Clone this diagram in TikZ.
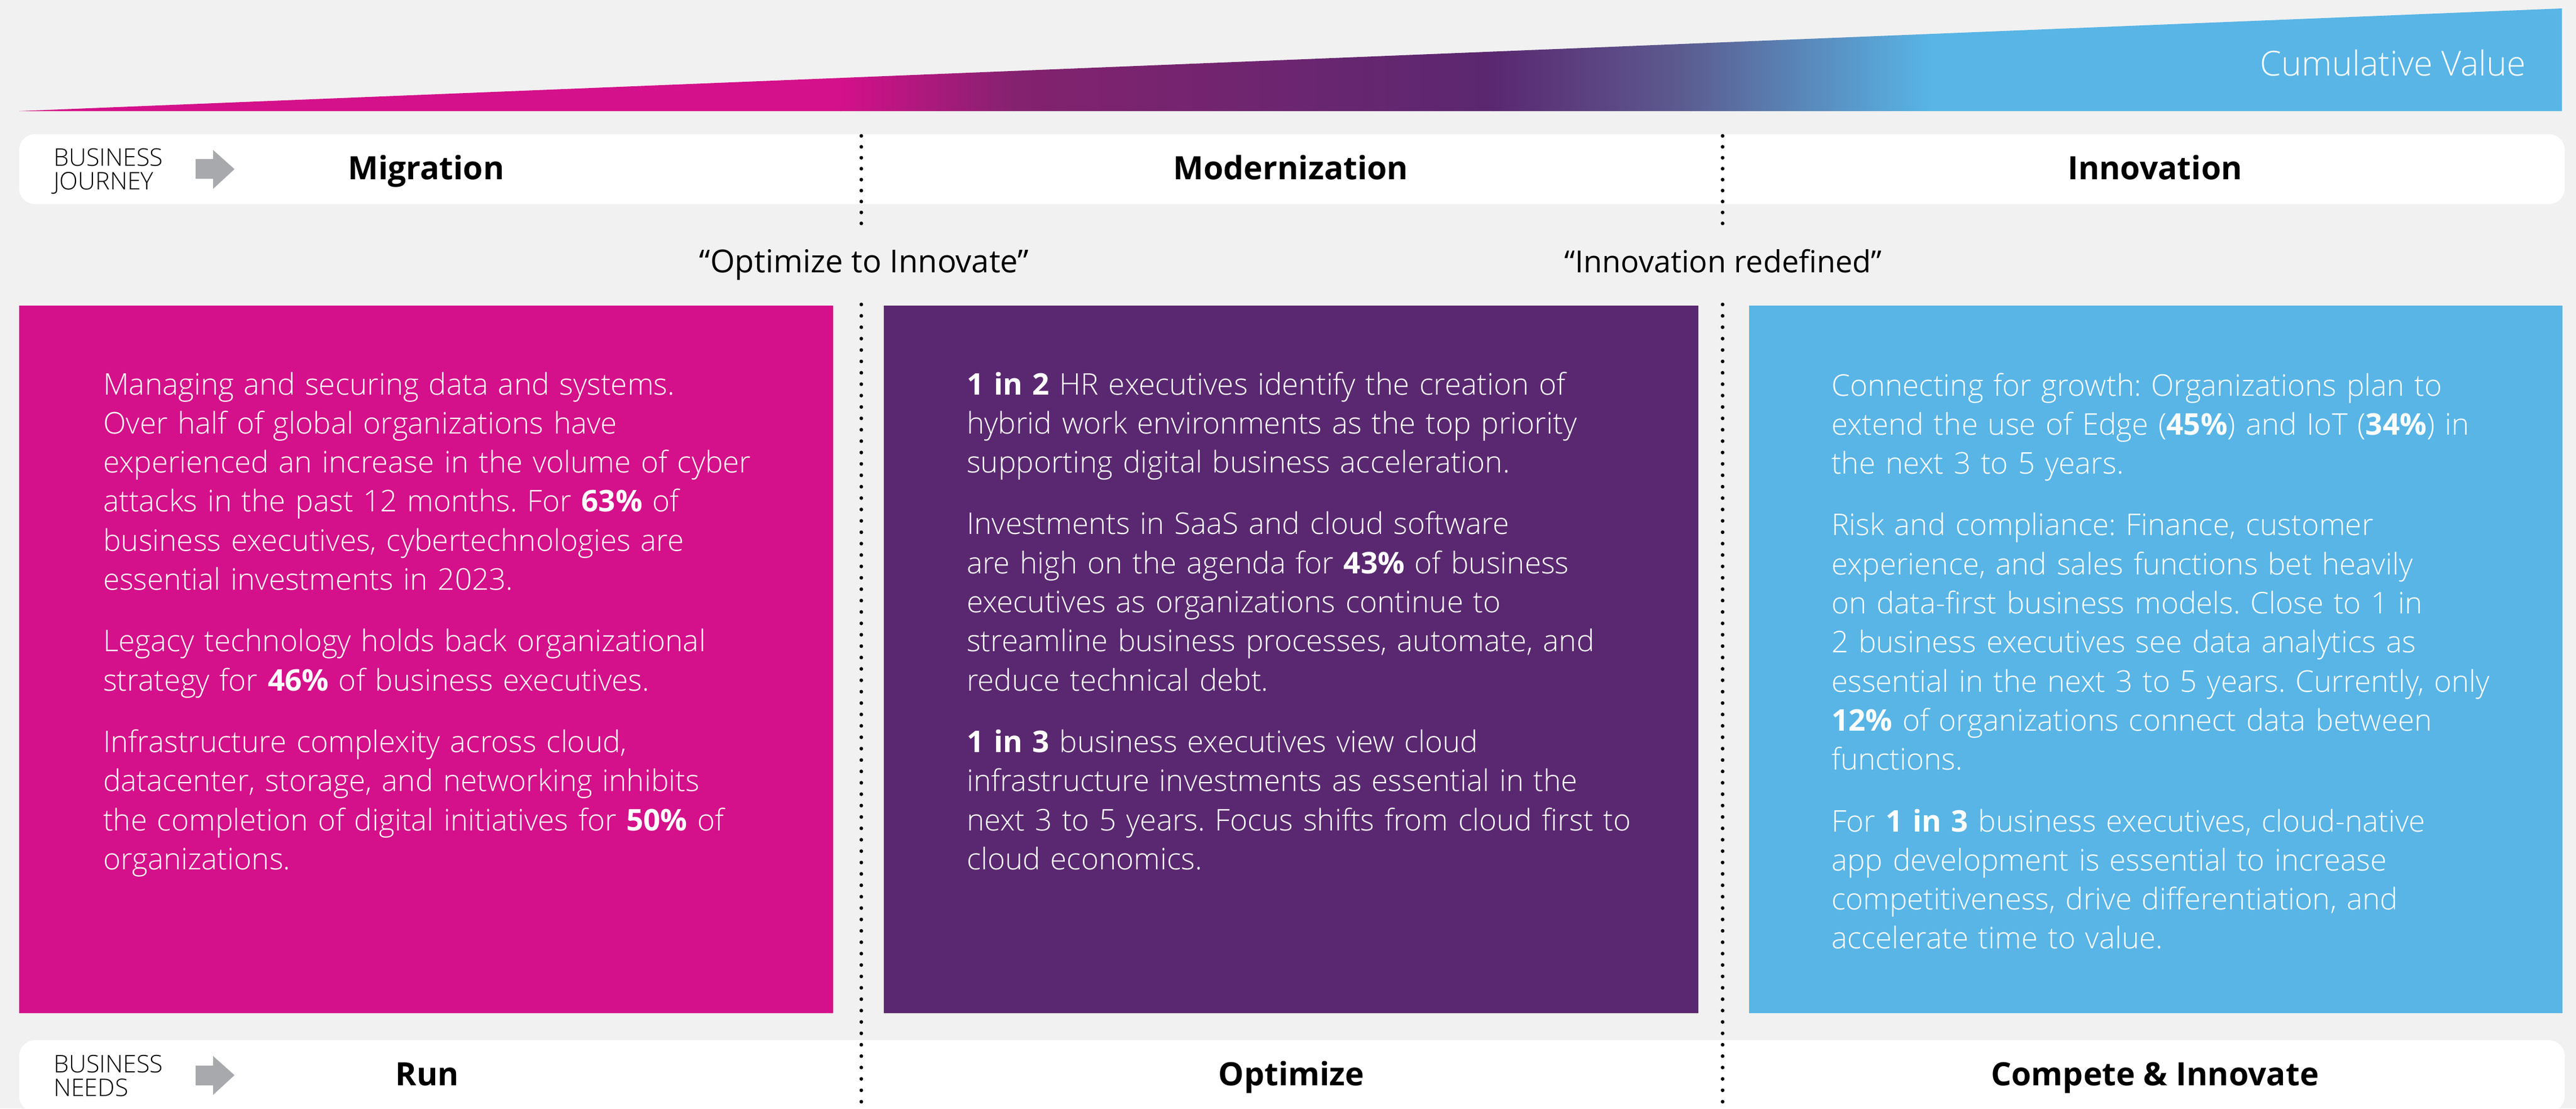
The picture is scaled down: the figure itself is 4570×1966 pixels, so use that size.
\documentclass[tikz,border=0pt]{standalone}
\usepackage{fontspec}
\setmainfont{Open Sans}
\IfFontExistsTF{Open Sans Light}{\newfontfamily\lightf{Open Sans Light}}{\newfontfamily\lightf{Open Sans}}
\definecolor{bgc}{HTML}{F1F1F1}
\definecolor{mag}{HTML}{D4108A}
\definecolor{magpur}{HTML}{84226F}
\definecolor{pur}{HTML}{5A2870}
\definecolor{purblu}{HTML}{5C5E92}
\definecolor{blu}{HTML}{58B5E6}
\definecolor{arrowgrey}{HTML}{A7A9AC}
\newcommand\hb[1]{{\normalfont\bfseries #1}}
\frenchspacing
\tikzset{
  body/.style={anchor=base west, inner sep=0pt, text width=1350pt, align=left, text=white,
    font=\lightf\frenchspacing\fontsize{53}{69.3}\selectfont},
  head/.style={anchor=base, inner sep=0pt, text=black, font=\normalfont\bfseries\fontsize{57}{60}\selectfont},
  quote/.style={anchor=base, inner sep=0pt, text=black, font=\normalfont\fontsize{54}{60}\selectfont},
  side/.style={anchor=base west, inner sep=0pt, text width=300pt, align=left, text=black,
    font=\lightf\fontsize{43}{42}\selectfont},
  dotline/.style={line width=6.5pt, line cap=round, black},
  bar/.style={fill=white, rounded corners=28pt},
  grey arrow/.style={fill=arrowgrey}
}
\begin{document}
\begin{tikzpicture}[x=1pt,y=-1pt]
\useasboundingbox (0,0) rectangle (4570,1966);
\fill[bgc] (0,0) rectangle (4570,1966);
% cumulative value wedge
\begin{scope}
\clip (34,197) -- (4545,15) -- (4545,197) -- cycle;
\fill[mag] (30,0) rectangle (1492,200);
\shade[left color=mag, right color=magpur] (1491,0) rectangle (1800,200);
\shade[left color=magpur, right color=pur] (1799,0) rectangle (2650,200);
\shade[left color=pur, right color=purblu] (2649,0) rectangle (3000,200);
\shade[left color=purblu, right color=blu] (2999,0) rectangle (3427,200);
\fill[blu] (3426,0) rectangle (4550,200);
\end{scope}
\node[anchor=base east, inner sep=0pt, text=white, font=\lightf\fontsize{61}{64}\selectfont] (cumval) at (4481,134) {Cumulative Value};
% bars
\fill[bar] (34,238) rectangle (4550,362);
\fill[bar] (34,1845) rectangle (4550,1972);
% dotted separators
\draw[dotline, dash pattern=on 0pt off 19.4pt] (1528,241) -- (1528,400);
\draw[dotline, dash pattern=on 0pt off 19.4pt] (3056,241) -- (3056,400);
% boxes
\fill[mag] (34,542) rectangle (1478,1797);
\fill[pur] (1568,542) rectangle (3013,1797);
\fill[blu] (3103,542) rectangle (4546,1797);
\draw[dotline, dash pattern=on 0pt off 20.2pt] (1528,540) -- (1528,1980);
\draw[dotline, dash pattern=on 0pt off 20.2pt] (3056,540) -- (3056,1980);
% arrows and side labels
\fill[grey arrow] (347,282) -- (378,282) -- (378,266) -- (416,300) -- (378,335) -- (378,317) -- (347,317) -- cycle;
\fill[grey arrow] (347,1890) -- (378,1890) -- (378,1873) -- (416,1907) -- (378,1942) -- (378,1925) -- (347,1925) -- cycle;
\node[side] (bj) at (95,294) {BUSINESS\\JOURNEY};
\node[side] (bn) at (95,1902) {BUSINESS\\NEEDS};
% headers
\node[head] (mig) at (756,318) {Migration};
\node[head] (mod) at (2290,318) {Modernization};
\node[head] (inn) at (3823,318) {Innovation};
\node[head] (run) at (758,1925) {Run};
\node[head] (opt) at (2291,1925) {Optimize};
\node[head] (ci) at (3823,1925) {Compete \& Innovate};
% quotes
\node[quote, font=\normalfont\fontsize{56}{60}\selectfont] (q1) at (1533,483) {“Optimize to Innovate”};
\node[quote] (q2) at (3057,483) {“Innovation redefined”};
% body texts
\node[body] (t1) at (183,700) {Managing and securing data and systems.\\
Over half of global organizations have\\
experienced an increase in the volume of cyber\\
attacks in the past 12 months. For \hb{63\%} of\\
business executives, cybertechnologies are\\
essential investments in 2023.\\[40pt]
Legacy technology holds back organizational\\
strategy for \hb{46\%} of business executives.\\[40pt]
Infrastructure complexity across cloud,\\
datacenter, storage, and networking inhibits\\
the completion of digital initiatives for \hb{50\%} of\\
organizations.};
\node[body] (t2) at (1715,700) {\hb{1 in 2} HR executives identify the creation of\\
hybrid work environments as the top priority\\
supporting digital business acceleration.\\[40pt]
Investments in SaaS and cloud software\\
are high on the agenda for \hb{43\%} of business\\
executives as organizations continue to\\
streamline business processes, automate, and\\
reduce technical debt.\\[40pt]
\hb{1 in 3} business executives view cloud\\
infrastructure investments as essential in the\\
next 3 to 5 years. Focus shifts from cloud first to\\
cloud economics.};
\node[body] (t3) at (3249,702) {Connecting for growth: Organizations plan to\\
extend the use of Edge (\hb{45\%}) and IoT (\hb{34\%}) in\\
the next 3 to 5 years.\\[40pt]
Risk and compliance: Finance, customer\\
experience, and sales functions bet heavily\\
on data-first business models. Close to 1 in\\
2 business executives see data analytics as\\
essential in the next 3 to 5 years. Currently, only\\
\hb{12\%} of organizations connect data between\\
functions.\\[40pt]
For \hb{1 in 3} business executives, cloud-native\\
app development is essential to increase\\
competitiveness, drive differentiation, and\\
accelerate time to value.};
\end{tikzpicture}
\end{document}
